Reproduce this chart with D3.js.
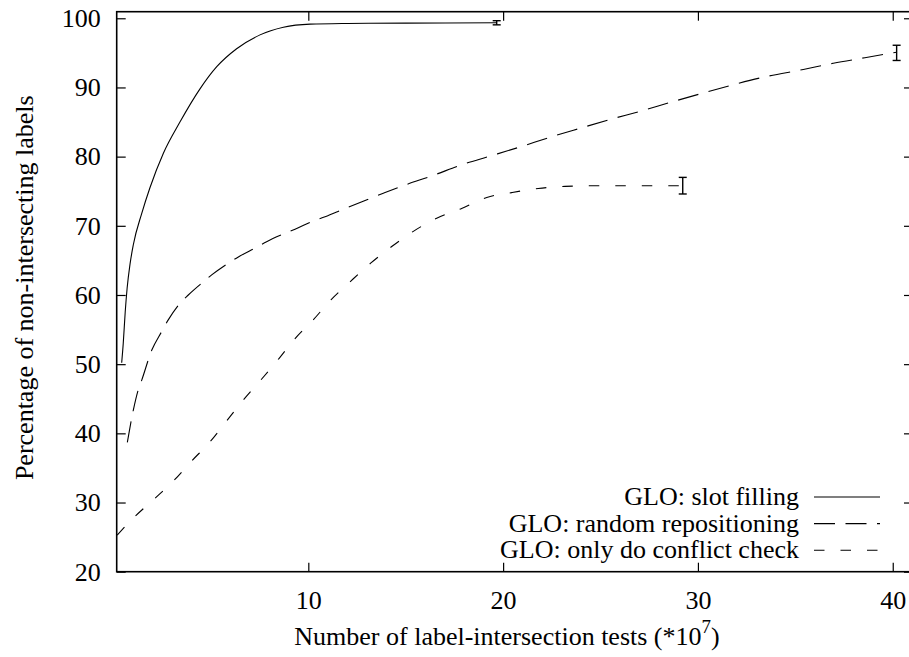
<!DOCTYPE html>
<html>
<head>
<meta charset="utf-8">
<script src="https://cdn.jsdelivr.net/npm/d3@7"></script>
<style>
  html, body { margin: 0; padding: 0; background: #fff; }
  svg text { font-family: 'Liberation Serif', 'Times New Roman', Times, serif; }
</style>
</head>
<body>
<svg id="chart" width="909" height="657"></svg>
<script>
// Series: label-intersection tests (*10^7) vs. percentage of non-intersecting labels
const slotX = [0.42, 0.5, 0.6, 0.7, 0.85, 1.02, 1.45, 1.87, 2.56, 3.41, 4.44, 5.30, 6.32, 7.52, 8.72, 10.09, 12, 15, 19.67];
const slotY = [50.2, 53, 57.5, 61, 64.5, 67.3, 71.8, 75.5, 80.5, 85.0, 89.8, 93.0, 95.6, 97.6, 98.7, 99.15, 99.25, 99.3, 99.35];

const randX = [0.71, 1.02, 1.27, 1.45, 1.96, 2.47, 2.81, 3.41, 3.84, 4.61, 5.04, 5.89, 6.41, 7.35, 7.86, 8.80, 9.32, 10.25, 10.86, 11.8, 12.85, 13.85, 14.88, 16.42, 17.95, 19.24, 20.87, 22.41, 23.95, 25.52, 27.1, 28.65, 30.28, 31.82, 33.39, 35.41, 36.95, 38.57, 40.2];
const randY = [38.7, 43.4, 46.3, 47.7, 52.0, 54.7, 56.4, 58.8, 60.0, 61.9, 62.9, 64.6, 65.5, 66.9, 67.7, 68.9, 69.5, 70.7, 71.3, 72.4, 73.6, 74.7, 75.8, 77.3, 78.9, 80.0, 81.4, 82.8, 84.1, 85.4, 86.6, 87.9, 89.2, 90.4, 91.5, 92.6, 93.5, 94.3, 95.1];

const checkX = [0.19, 1.07, 2.09, 3.07, 4.01, 4.96, 5.81, 6.66, 7.56, 8.43, 9.32, 10.25, 11.16, 12.14, 13.2, 14.28, 15.39, 16.59, 17.87, 19.16, 20.44, 21.8, 23.18, 25, 27, 29.22];
const checkY = [25.3, 27.9, 30.5, 33.1, 36.0, 38.8, 41.8, 44.8, 47.7, 50.6, 53.7, 56.4, 59.3, 61.9, 64.6, 67.0, 69.2, 71.1, 72.5, 74.1, 74.8, 75.4, 75.7, 75.8, 75.8, 75.8];

// Error bars at the final measurement of each series: [x, y, half-range]
const slotErr = [19.67, 99.35, 0.3];
const randErr = [40.2, 95.0, 1.1];
const checkErr = [29.22, 75.8, 1.2];

const seriesNames = ["GLO: slot filling", "GLO: random repositioning", "GLO: only do conflict check"];
const xTicks = [10, 20, 30, 40];
const yTicks = [20, 30, 40, 50, 60, 70, 80, 90, 100];
const xTitle = "Number of label-intersection tests (*10";
const xTitleSup = "7";
const yTitle = "Percentage of non-intersecting labels";

const FONT = "'Liberation Serif', 'Times New Roman', Times, serif";
const FS = 26;
const svg = d3.select("#chart");
const L = 116.7, R = 913, T = 11.7, B = 571.7;
const x = d3.scaleLinear().domain([0.164, 41.04]).range([L, R]);
const y = d3.scaleLinear().domain([20, 100.95]).range([B, T]);

const dashes = [null, "21,10.5", "10.5,16"];

// Axes with inward ticks on all four sides
const styleAxis = g => {
  g.attr("font-family", FONT).attr("font-size", FS);
  g.select(".domain").remove();
  g.selectAll(".tick line").attr("stroke", "#000").attr("stroke-width", 1.2);
  g.selectAll("text").attr("fill", "#000").attr("font-family", FONT).attr("font-size", FS);
};
svg.append("g").attr("transform", `translate(0,${B})`)
  .call(d3.axisBottom(x).tickValues(xTicks).tickSize(-9).tickPadding(19).tickFormat(d3.format("d")))
  .call(styleAxis);
svg.append("g").attr("transform", `translate(0,${T})`)
  .call(d3.axisTop(x).tickValues(xTicks).tickSize(-9).tickFormat(""))
  .call(styleAxis);
svg.append("g").attr("transform", `translate(${L},0)`)
  .call(d3.axisLeft(y).tickValues(yTicks).tickSize(-9).tickPadding(16).tickFormat(d3.format("d")))
  .call(styleAxis);
svg.append("g").attr("transform", `translate(${R},0)`)
  .call(d3.axisRight(y).tickValues(yTicks).tickSize(-9).tickFormat(""))
  .call(styleAxis);

// Frame
svg.append("rect").attr("x", L).attr("y", T).attr("width", R - L).attr("height", B - T)
  .attr("fill", "none").attr("stroke", "#000").attr("stroke-width", 1.6);

// Curves
const line = d3.line().x(d => x(d[0])).y(d => y(d[1])).curve(d3.curveMonotoneX);
const series = [
  { xs: slotX, ys: slotY, err: slotErr },
  { xs: randX, ys: randY, err: randErr },
  { xs: checkX, ys: checkY, err: checkErr }
];
series.forEach((s, i) => {
  const pts = s.xs.map((v, k) => [v, s.ys[k]]);
  svg.append("path").datum(pts).attr("d", line)
    .attr("fill", "none").attr("stroke", "#000").attr("stroke-width", 1.1)
    .attr("stroke-dasharray", dashes[i]);
  const [ex, ey, er] = s.err;
  const g = svg.append("g").attr("stroke", "#000").attr("stroke-width", 1.4);
  g.append("line").attr("x1", x(ex)).attr("x2", x(ex)).attr("y1", y(ey - er)).attr("y2", y(ey + er));
  g.append("line").attr("x1", x(ex) - 4).attr("x2", x(ex) + 4).attr("y1", y(ey - er)).attr("y2", y(ey - er));
  g.append("line").attr("x1", x(ex) - 4).attr("x2", x(ex) + 4).attr("y1", y(ey + er)).attr("y2", y(ey + er));
});

// Legend
seriesNames.forEach((name, i) => {
  const by = 505 + i * 26.6;
  svg.append("text").attr("x", 799).attr("y", by).attr("text-anchor", "end")
    .attr("font-family", FONT).attr("font-size", FS).attr("fill", "#000").text(name);
  svg.append("line").attr("x1", 814).attr("x2", 880).attr("y1", by - 8).attr("y2", by - 8)
    .attr("stroke", "#000").attr("stroke-width", 1.1).attr("stroke-dasharray", dashes[i]);
});

// Axis titles
const xt = svg.append("text").attr("x", 507).attr("y", 645).attr("text-anchor", "middle")
  .attr("font-family", FONT).attr("font-size", FS).attr("fill", "#000");
xt.append("tspan").text(xTitle);
xt.append("tspan").attr("dy", -12).attr("font-size", 19).text(xTitleSup);
xt.append("tspan").attr("dy", 12).text(")");

svg.append("text").attr("transform", `translate(33,${(T + B) / 2 - 4}) rotate(-90)`)
  .attr("text-anchor", "middle").attr("font-family", FONT).attr("font-size", FS)
  .attr("fill", "#000").text(yTitle);
</script>
</body>
</html>
